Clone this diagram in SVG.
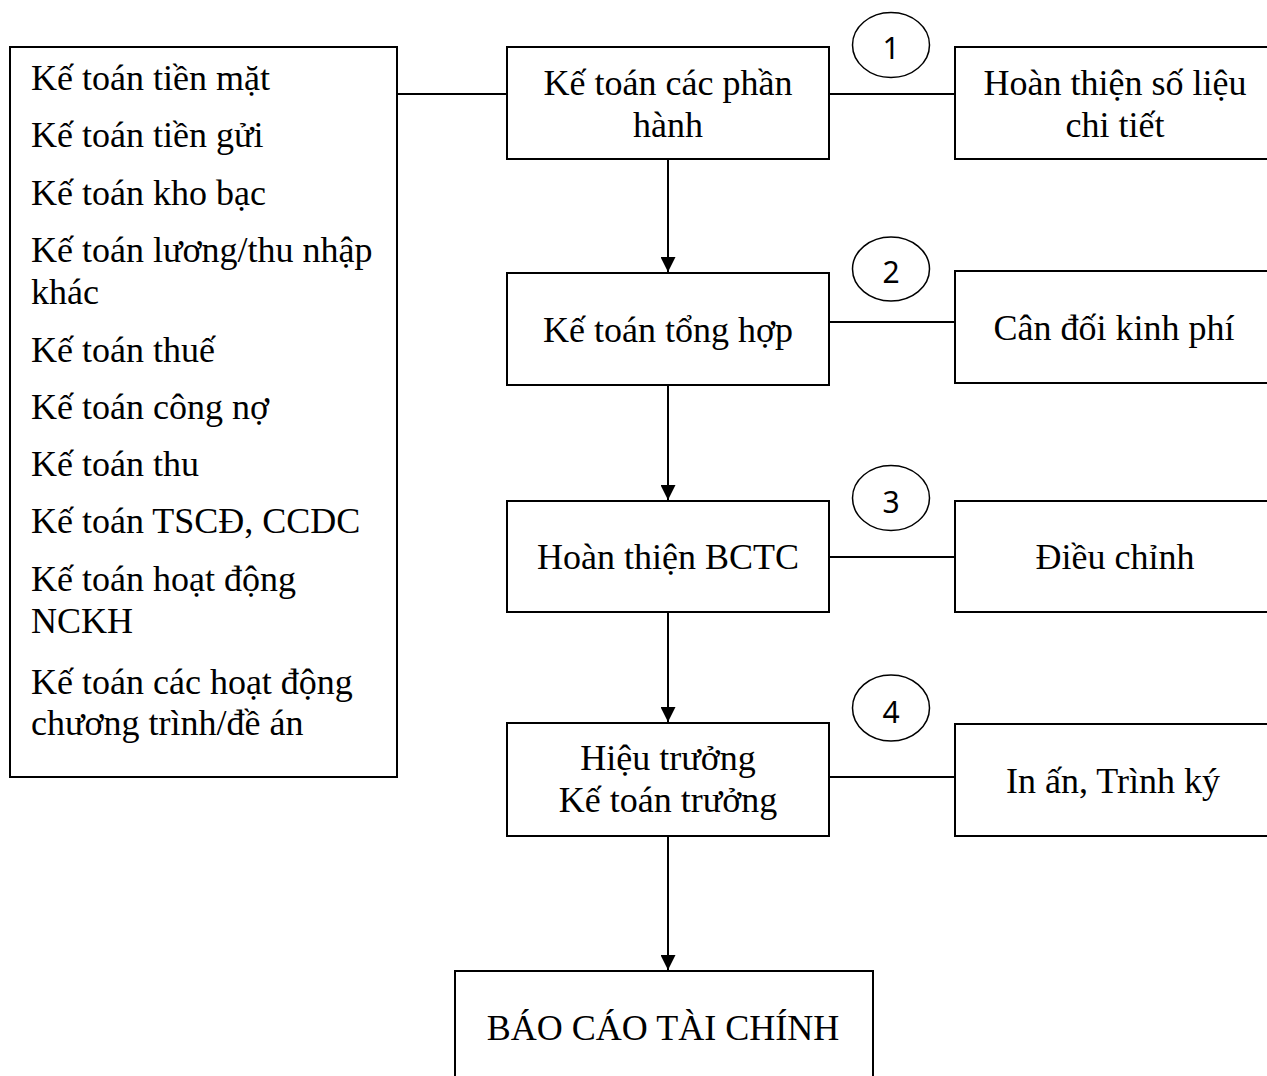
<svg xmlns="http://www.w3.org/2000/svg" width="1267" height="1076" viewBox="0 0 1267 1076">
  <style>
    .box { fill: #ffffff; stroke: #000000; stroke-width: 2; }
    .step { fill: #ffffff; stroke: #000000; stroke-width: 1.5; }
    .link { fill: none; stroke: #000000; stroke-width: 2; }
    .t { font-family: "Liberation Serif", "Times New Roman", serif; font-size: 36px; fill: #000000; }
    .c { text-anchor: middle; }
    .n { font-family: "Noto Sans", "Open Sans", sans-serif; font-size: 30px; fill: #000000; text-anchor: middle; }
  </style>
  <defs>
    <marker id="arrow" viewBox="0 0 15 15" refX="15" refY="7.5" markerWidth="15" markerHeight="15" markerUnits="userSpaceOnUse" orient="auto">
      <path d="M0,0 L15,7.5 L0,15 Z" fill="#000000"/>
    </marker>
  </defs>
  <rect width="1267" height="1076" fill="#ffffff"/>

  <!-- connectors -->
  <g id="connectors">
    <line class="link" x1="397" y1="94" x2="507" y2="94"/>
    <line class="link" x1="829" y1="94" x2="955" y2="94"/>
    <line class="link" x1="829" y1="322" x2="955" y2="322"/>
    <line class="link" x1="829" y1="557" x2="955" y2="557"/>
    <line class="link" x1="829" y1="777" x2="955" y2="777"/>
    <line class="link" x1="668" y1="159" x2="668" y2="272" marker-end="url(#arrow)"/>
    <line class="link" x1="668" y1="385" x2="668" y2="500" marker-end="url(#arrow)"/>
    <line class="link" x1="668" y1="612" x2="668" y2="722" marker-end="url(#arrow)"/>
    <line class="link" x1="668" y1="836" x2="668" y2="970" marker-end="url(#arrow)"/>
  </g>

  <!-- list of accounting sections -->
  <g id="sections">
    <rect class="box" x="10" y="47" width="387" height="730"/>
    <text class="t" x="31" y="90">Kế toán tiền mặt</text>
    <text class="t" x="31" y="147">Kế toán tiền gửi</text>
    <text class="t" x="31" y="205">Kế toán kho bạc</text>
    <text class="t" x="31" y="262">Kế toán lương/thu nhập</text>
    <text class="t" x="31" y="304">khác</text>
    <text class="t" x="31" y="362">Kế toán thuế</text>
    <text class="t" x="31" y="419">Kế toán công nợ</text>
    <text class="t" x="31" y="476">Kế toán thu</text>
    <text class="t" x="31" y="533">Kế toán TSCĐ, CCDC</text>
    <text class="t" x="31" y="591">Kế toán hoạt động</text>
    <text class="t" x="31" y="633">NCKH</text>
    <text class="t" x="31" y="694">Kế toán các hoạt động</text>
    <text class="t" x="31" y="735">chương trình/đề án</text>
  </g>

  <g id="ke-toan-phan-hanh">
    <rect class="box" x="507" y="47" width="322" height="112"/>
    <text class="t c" x="668" y="95">Kế toán các phần</text>
    <text class="t c" x="668" y="137">hành</text>
  </g>
  <g id="step-1">
    <ellipse class="step" cx="891" cy="45" rx="38.5" ry="32.5"/>
    <text class="n" x="891" y="59">1</text>
  </g>
  <g id="hoan-thien-so-lieu">
    <rect class="box" x="955" y="47" width="330" height="112"/>
    <text class="t c" x="1115" y="95">Hoàn thiện số liệu</text>
    <text class="t c" x="1115" y="137">chi tiết</text>
  </g>

  <g id="ke-toan-tong-hop">
    <rect class="box" x="507" y="273" width="322" height="112"/>
    <text class="t c" x="668" y="342">Kế toán tổng hợp</text>
  </g>
  <g id="step-2">
    <ellipse class="step" cx="891" cy="269" rx="38.5" ry="32"/>
    <text class="n" x="891" y="283">2</text>
  </g>
  <g id="can-doi-kinh-phi">
    <rect class="box" x="955" y="271" width="330" height="112"/>
    <text class="t c" x="1114" y="340">Cân đối kinh phí</text>
  </g>

  <g id="hoan-thien-bctc">
    <rect class="box" x="507" y="501" width="322" height="111"/>
    <text class="t c" x="668" y="569">Hoàn thiện BCTC</text>
  </g>
  <g id="step-3">
    <ellipse class="step" cx="891" cy="498" rx="38.5" ry="32.5"/>
    <text class="n" x="891" y="513">3</text>
  </g>
  <g id="dieu-chinh">
    <rect class="box" x="955" y="501" width="330" height="111"/>
    <text class="t c" x="1115" y="569">Điều chỉnh</text>
  </g>

  <g id="hieu-truong">
    <rect class="box" x="507" y="723" width="322" height="113"/>
    <text class="t c" x="668" y="770">Hiệu trưởng</text>
    <text class="t c" x="668" y="812">Kế toán trưởng</text>
  </g>
  <g id="step-4">
    <ellipse class="step" cx="891" cy="708" rx="38.5" ry="33"/>
    <text class="n" x="891" y="723">4</text>
  </g>
  <g id="in-an-trinh-ky">
    <rect class="box" x="955" y="724" width="330" height="112"/>
    <text class="t c" x="1113" y="793">In ấn, Trình ký</text>
  </g>

  <g id="bao-cao-tai-chinh">
    <rect class="box" x="455" y="971" width="418" height="130"/>
    <text class="t c" x="663" y="1040">BÁO CÁO TÀI CHÍNH</text>
  </g>
</svg>
